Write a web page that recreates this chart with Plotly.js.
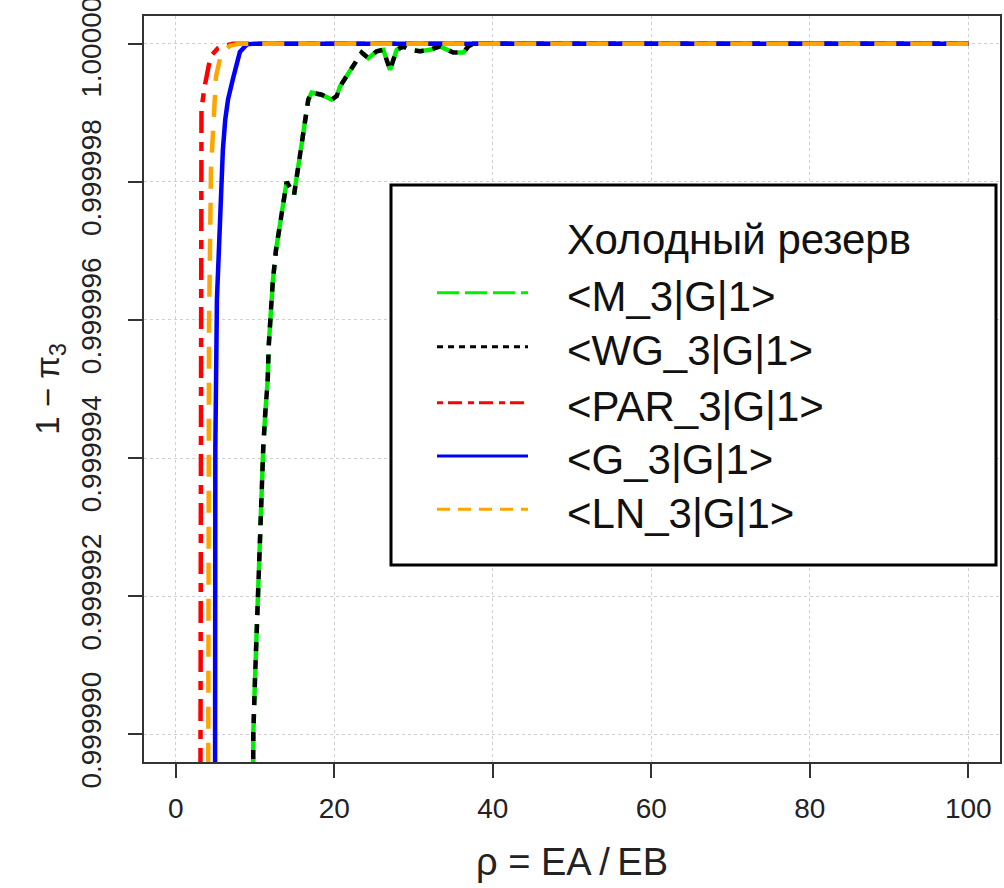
<!DOCTYPE html>
<html><head><meta charset="utf-8">
<script src="https://cdn.plot.ly/plotly-3.0.1.min.js"></script>
<style>html,body{margin:0;padding:0;background:#fff}#chart{width:1004px;height:888px}</style>
</head><body><div id="chart"></div>
<script>
// ---- data ----
const seriesNames = ['&lt;M_3|G|1&gt;', '&lt;WG_3|G|1&gt;', '&lt;PAR_3|G|1&gt;', '&lt;G_3|G|1&gt;', '&lt;LN_3|G|1&gt;'];
const legendTitle = 'Холодный резерв';

const rhoM = [9.7, 9.79, 10.0, 10.3, 10.42, 10.55, 10.72, 10.89, 11.05, 11.3, 11.61, 11.73, 11.99, 12.24, 12.65, 13.37, 13.66, 14.0, 14.93, 15.3, 15.59, 15.97, 16.31, 16.73, 17.16, 18.42, 19.68, 20.31, 20.73, 21.99, 23.04, 23.47, 24.3, 25.36, 26.19, 27.04, 27.88, 28.72, 29.56, 30.82, 32.08, 33.34, 35.02, 36.29, 36.92, 37.55, 40, 50, 60, 70, 80, 90, 100];
const yM = [0.99998, 0.99999001, 0.99999078, 0.99999175, 0.99999223, 0.99999271, 0.99999320, 0.99999368, 0.99999416, 0.99999465, 0.99999513, 0.99999561, 0.99999610, 0.99999654, 0.99999701, 0.99999749, 0.99999774, 0.99999800, 0.99999781, 0.99999810, 0.99999822, 0.99999861, 0.99999886, 0.99999919, 0.99999929, 0.99999926, 0.99999919, 0.99999924, 0.99999938, 0.99999960, 0.99999977, 0.99999987, 0.99999979, 0.99999989, 0.99999991, 0.99999962, 0.99999991, 0.99999996, 0.99999991, 0.99999989, 0.99999991, 0.99999996, 0.99999987, 0.99999987, 0.99999996, 1.0, 1.0, 1.0, 1.0, 1.0, 1.0, 1.0, 1.0];

const rhoWG = [9.7, 9.79, 10.0, 10.3, 10.42, 10.55, 10.72, 10.89, 11.05, 11.3, 11.61, 11.73, 11.99, 12.24, 12.65, 13.37, 13.66, 14.0, 14.93, 15.3, 15.59, 15.97, 16.31, 16.73, 17.16, 18.42, 19.68, 20.31, 20.73, 21.99, 23.04, 23.47, 24.3, 25.36, 26.19, 27.04, 27.88, 28.72, 29.56, 30.82, 32.08, 33.34, 35.02, 36.29, 36.92, 37.55, 40, 50, 60, 70, 80, 90, 100];
const yWG = [0.99998, 0.99999001, 0.99999078, 0.99999175, 0.99999223, 0.99999271, 0.99999320, 0.99999368, 0.99999416, 0.99999465, 0.99999513, 0.99999561, 0.99999610, 0.99999654, 0.99999701, 0.99999749, 0.99999774, 0.99999800, 0.99999781, 0.99999810, 0.99999822, 0.99999861, 0.99999886, 0.99999919, 0.99999929, 0.99999926, 0.99999919, 0.99999924, 0.99999938, 0.99999960, 0.99999977, 0.99999987, 0.99999979, 0.99999989, 0.99999991, 0.99999962, 0.99999991, 0.99999996, 0.99999991, 0.99999989, 0.99999991, 0.99999996, 0.99999987, 0.99999987, 0.99999996, 1.0, 1.0, 1.0, 1.0, 1.0, 1.0, 1.0, 1.0];

const rhoPAR = [3.0, 3.1, 3.25, 3.6, 3.9, 4.2, 4.6, 5.3, 6.3, 7.2, 10, 20, 30, 40, 50, 60, 70, 80, 90, 100];
const yPAR = [0.99998, 0.9999963, 0.99999904, 0.99999935, 0.99999952, 0.99999970, 0.99999984, 0.99999993, 0.99999997, 1.0, 1.0, 1.0, 1.0, 1.0, 1.0, 1.0, 1.0, 1.0, 1.0, 1.0];

const rhoG = [4.9, 5.0, 5.2, 5.45, 5.6, 5.95, 6.25, 6.6, 7.2, 7.75, 8.1, 9.0, 10, 20, 30, 40, 50, 60, 70, 80, 90, 100];
const yG = [0.99998, 0.99999414, 0.99999629, 0.99999701, 0.99999774, 0.99999846, 0.99999890, 0.99999919, 0.99999948, 0.99999974, 0.99999988, 0.99999999, 1.0, 1.0, 1.0, 1.0, 1.0, 1.0, 1.0, 1.0, 1.0, 1.0];

const rhoLN = [4.1, 4.2, 4.45, 4.83, 5.08, 5.7, 6.85, 8, 10, 20, 30, 40, 50, 60, 70, 80, 90, 100];
const yLN = [0.99998904, 0.99999586, 0.99999817, 0.99999919, 0.99999952, 0.99999984, 0.99999997, 1.0, 1.0, 1.0, 1.0, 1.0, 1.0, 1.0, 1.0, 1.0, 1.0, 1.0];

const xTickVals = [0, 20, 40, 60, 80, 100];
const yTickVals = [0.999990, 0.999992, 0.999994, 0.999996, 0.999998, 1.0];
const yTickText = ['0.999990', '0.999992', '0.999994', '0.999996', '0.999998', '1.000000'];

// ---- styles ----
const colors = ['#00ee00', '#000000', '#ff0000', '#0000ff', '#ffa500'];
const plotDash = ['36px,9px', '9px,9px', '9px,9px,22px,9px', 'solid', '22px,14px'];
const legDash = ['22px,6px', '6px,5px', '6px,5px,14px,6px', 'solid', '13px,8px'];
const FONT = 'Liberation Sans, Arial, sans-serif';

const W = 1004, H = 888, ML = 144, MR = 4, MT = 16, MB = 126;
const PW = W - ML - MR, PH = H - MT - MB;
const px = v => (v - ML) / PW;
const py = v => (H - MB - v) / PH;

const xs = [rhoM, rhoWG, rhoPAR, rhoG, rhoLN];
const ys = [yM, yWG, yPAR, yG, yLN];
const traces = xs.map((x, i) => ({
  x: x, y: ys[i], type: 'scatter', mode: 'lines', name: seriesNames[i],
  line: {color: colors[i], width: 4.5, dash: plotDash[i]},
  showlegend: false
}));

// custom legend box (R-style)
const shapes = [{
  type: 'rect', xref: 'paper', yref: 'paper', layer: 'above',
  x0: px(391), x1: px(996), y0: py(565), y1: py(185),
  line: {color: '#000', width: 3}, fillcolor: '#fff'
}];
const annotations = [{
  xref: 'paper', yref: 'paper', x: px(565), y: py(240), xanchor: 'left', yanchor: 'middle',
  text: legendTitle, showarrow: false, font: {family: FONT, size: 42, color: '#111'}
}];
const sampleY = [292.7, 346.7, 402.7, 456, 509.3];
seriesNames.forEach((n, i) => {
  shapes.push({
    type: 'line', xref: 'paper', yref: 'paper', layer: 'above',
    x0: px(437), x1: px(528), y0: py(sampleY[i]), y1: py(sampleY[i]),
    line: {color: colors[i], width: 3, dash: legDash[i]}
  });
  annotations.push({
    xref: 'paper', yref: 'paper', x: px(565), y: py(sampleY[i] + 4), xanchor: 'left', yanchor: 'middle',
    text: n, showarrow: false, font: {family: FONT, size: 42, color: '#111'}
  });
});

const axisCommon = {
  showline: true, mirror: true, linecolor: '#333', linewidth: 2,
  ticks: 'outside', ticklen: 14, tickwidth: 2, tickcolor: '#333',
  showgrid: true, gridcolor: '#cfcfcf', gridwidth: 1, griddash: 'dot',
  zeroline: false, ticklabeloverflow: 'allow'
};

const layout = {
  width: W, height: H,
  margin: {l: ML, r: MR, t: MT, b: MB, pad: 0},
  paper_bgcolor: '#fff', plot_bgcolor: '#fff',
  showlegend: false,
  xaxis: Object.assign({}, axisCommon, {
    range: [-4, 104], tickmode: 'array', tickvals: xTickVals,
    ticklabelstandoff: 6,
    tickfont: {family: FONT, size: 28, color: '#222'},
    title: {text: 'ρ\u00a0=\u00a0EA\u2009/\u2009EB', font: {family: FONT, size: 38, color: '#222'}, standoff: 26}
  }),
  yaxis: Object.assign({}, axisCommon, {
    range: [0.9999896, 1.0000004], tickmode: 'array', tickvals: yTickVals, ticktext: yTickText,
    tickangle: -90, ticklabelstandoff: 16,
    tickfont: {family: FONT, size: 28, color: '#222'},
    title: {text: '1 − π<sub>3</sub>', font: {family: FONT, size: 33, color: '#222'}, standoff: 6}
  }),
  shapes: shapes,
  annotations: annotations
};

Plotly.newPlot('chart', traces, layout, {displayModeBar: false, staticPlot: true});
</script>
</body></html>
